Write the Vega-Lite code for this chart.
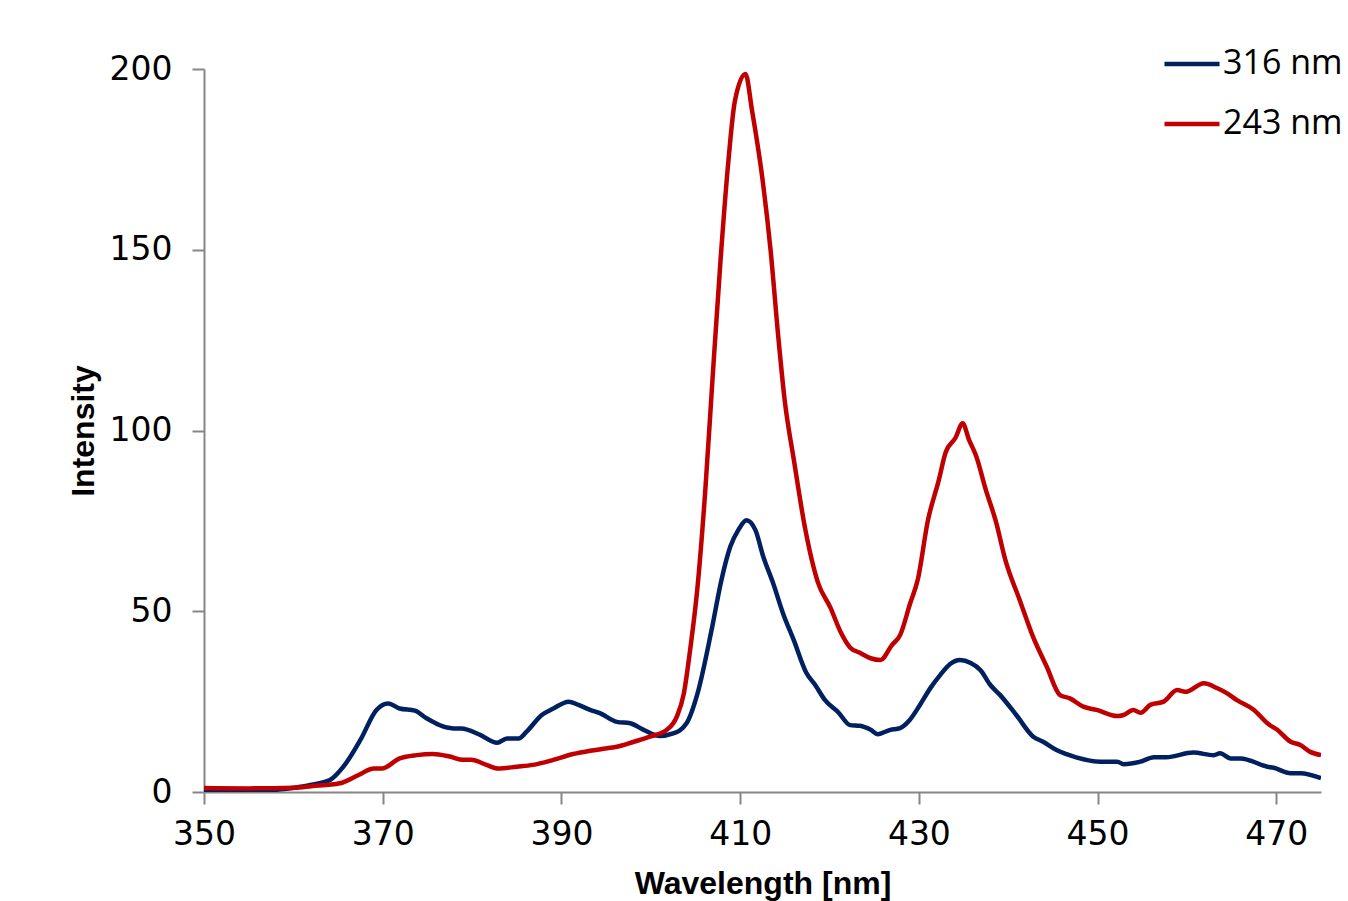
{
  "$schema": "https://vega.github.io/schema/vega-lite/v6.json",
  "width": 1117,
  "height": 723,
  "autosize": {"type": "none"},
  "padding": {"left": 204, "top": 69, "right": 27, "bottom": 109},
  "background": "white",
  "config": {
    "view": {"stroke": null},
    "font": "DejaVu Sans",
    "axis": {
      "grid": false,
      "domainColor": "#868686",
      "domainWidth": 2,
      "tickColor": "#868686",
      "tickWidth": 2,
      "tickSize": 12,
      "labelColor": "#000000",
      "labelFontSize": 33,
      "labelFont": "DejaVu Sans",
      "labelFlush": false,
      "labelOverlap": false,
      "titleColor": "#000000",
      "titleFont": "Liberation Sans",
      "titleFontWeight": "bold"
    }
  },
  "datasets": {
    "spec": [
      {"wl": 350, "v": 0.3, "s": "316 nm"},
      {"wl": 353, "v": 0.3, "s": "316 nm"},
      {"wl": 356, "v": 0.4, "s": "316 nm"},
      {"wl": 359, "v": 0.8, "s": "316 nm"},
      {"wl": 361, "v": 1.5, "s": "316 nm"},
      {"wl": 362.5, "v": 2.2, "s": "316 nm"},
      {"wl": 364.1, "v": 3.3, "s": "316 nm"},
      {"wl": 365.6, "v": 7, "s": "316 nm"},
      {"wl": 367.5, "v": 14.4, "s": "316 nm"},
      {"wl": 369.3, "v": 22.7, "s": "316 nm"},
      {"wl": 370.6, "v": 24.5, "s": "316 nm"},
      {"wl": 371.9, "v": 23.1, "s": "316 nm"},
      {"wl": 373.6, "v": 22.5, "s": "316 nm"},
      {"wl": 374.9, "v": 20.4, "s": "316 nm"},
      {"wl": 377.9, "v": 17.6, "s": "316 nm"},
      {"wl": 378.8, "v": 17.6, "s": "316 nm"},
      {"wl": 380.9, "v": 15.8, "s": "316 nm"},
      {"wl": 382.8, "v": 13.6, "s": "316 nm"},
      {"wl": 383.9, "v": 14.8, "s": "316 nm"},
      {"wl": 385.2, "v": 14.8, "s": "316 nm"},
      {"wl": 386.1, "v": 16.7, "s": "316 nm"},
      {"wl": 387.8, "v": 21.3, "s": "316 nm"},
      {"wl": 389.1, "v": 23.1, "s": "316 nm"},
      {"wl": 390.8, "v": 25, "s": "316 nm"},
      {"wl": 391.9, "v": 24.1, "s": "316 nm"},
      {"wl": 393.2, "v": 22.7, "s": "316 nm"},
      {"wl": 394.3, "v": 21.8, "s": "316 nm"},
      {"wl": 396.2, "v": 19.4, "s": "316 nm"},
      {"wl": 397.7, "v": 19, "s": "316 nm"},
      {"wl": 399.2, "v": 17.2, "s": "316 nm"},
      {"wl": 401.0, "v": 15.5, "s": "316 nm"},
      {"wl": 402.5, "v": 16.2, "s": "316 nm"},
      {"wl": 404.0, "v": 19, "s": "316 nm"},
      {"wl": 405.2, "v": 27, "s": "316 nm"},
      {"wl": 406.8, "v": 44.8, "s": "316 nm"},
      {"wl": 407.9, "v": 58.6, "s": "316 nm"},
      {"wl": 408.9, "v": 67.9, "s": "316 nm"},
      {"wl": 409.8, "v": 72.5, "s": "316 nm"},
      {"wl": 410.7, "v": 75.2, "s": "316 nm"},
      {"wl": 411.7, "v": 72.5, "s": "316 nm"},
      {"wl": 412.6, "v": 65, "s": "316 nm"},
      {"wl": 413.7, "v": 57.7, "s": "316 nm"},
      {"wl": 414.8, "v": 49.4, "s": "316 nm"},
      {"wl": 416.0, "v": 42, "s": "316 nm"},
      {"wl": 417.4, "v": 33, "s": "316 nm"},
      {"wl": 418.4, "v": 29.6, "s": "316 nm"},
      {"wl": 419.5, "v": 25.4, "s": "316 nm"},
      {"wl": 421, "v": 22, "s": "316 nm"},
      {"wl": 422.3, "v": 18.5, "s": "316 nm"},
      {"wl": 423.4, "v": 18.3, "s": "316 nm"},
      {"wl": 424.6, "v": 17.2, "s": "316 nm"},
      {"wl": 425.4, "v": 16, "s": "316 nm"},
      {"wl": 426.8, "v": 17.2, "s": "316 nm"},
      {"wl": 427.9, "v": 17.7, "s": "316 nm"},
      {"wl": 429, "v": 20, "s": "316 nm"},
      {"wl": 430.1, "v": 24, "s": "316 nm"},
      {"wl": 431.3, "v": 28.8, "s": "316 nm"},
      {"wl": 432.4, "v": 32.4, "s": "316 nm"},
      {"wl": 433.5, "v": 35.4, "s": "316 nm"},
      {"wl": 434.6, "v": 36.5, "s": "316 nm"},
      {"wl": 435.8, "v": 35.7, "s": "316 nm"},
      {"wl": 436.9, "v": 33.7, "s": "316 nm"},
      {"wl": 438, "v": 29.6, "s": "316 nm"},
      {"wl": 439.1, "v": 26.8, "s": "316 nm"},
      {"wl": 440.9, "v": 21.3, "s": "316 nm"},
      {"wl": 442.8, "v": 15.3, "s": "316 nm"},
      {"wl": 443.9, "v": 13.9, "s": "316 nm"},
      {"wl": 445.4, "v": 11.6, "s": "316 nm"},
      {"wl": 447.6, "v": 9.6, "s": "316 nm"},
      {"wl": 450.3, "v": 8.4, "s": "316 nm"},
      {"wl": 452.2, "v": 8.4, "s": "316 nm"},
      {"wl": 452.9, "v": 7.7, "s": "316 nm"},
      {"wl": 454.8, "v": 8.4, "s": "316 nm"},
      {"wl": 456.3, "v": 9.6, "s": "316 nm"},
      {"wl": 457.7, "v": 9.6, "s": "316 nm"},
      {"wl": 460.7, "v": 10.9, "s": "316 nm"},
      {"wl": 463.0, "v": 10.2, "s": "316 nm"},
      {"wl": 463.7, "v": 10.7, "s": "316 nm"},
      {"wl": 464.9, "v": 9.3, "s": "316 nm"},
      {"wl": 466.0, "v": 9.3, "s": "316 nm"},
      {"wl": 469.0, "v": 7, "s": "316 nm"},
      {"wl": 469.7, "v": 6.7, "s": "316 nm"},
      {"wl": 471.6, "v": 5.2, "s": "316 nm"},
      {"wl": 472.7, "v": 5.2, "s": "316 nm"},
      {"wl": 475, "v": 3.8, "s": "316 nm"},
      {"wl": 350, "v": 1.1, "s": "243 nm"},
      {"wl": 355, "v": 1.0, "s": "243 nm"},
      {"wl": 360, "v": 1.2, "s": "243 nm"},
      {"wl": 362, "v": 1.6, "s": "243 nm"},
      {"wl": 365.2, "v": 2.4, "s": "243 nm"},
      {"wl": 367.3, "v": 4.7, "s": "243 nm"},
      {"wl": 369.0, "v": 6.5, "s": "243 nm"},
      {"wl": 369.9, "v": 6.5, "s": "243 nm"},
      {"wl": 371.9, "v": 9.3, "s": "243 nm"},
      {"wl": 373.8, "v": 10.2, "s": "243 nm"},
      {"wl": 375.6, "v": 10.5, "s": "243 nm"},
      {"wl": 377.5, "v": 9.8, "s": "243 nm"},
      {"wl": 379.0, "v": 8.9, "s": "243 nm"},
      {"wl": 379.9, "v": 8.9, "s": "243 nm"},
      {"wl": 381.6, "v": 7.5, "s": "243 nm"},
      {"wl": 382.9, "v": 6.5, "s": "243 nm"},
      {"wl": 385.0, "v": 7, "s": "243 nm"},
      {"wl": 386.8, "v": 7.5, "s": "243 nm"},
      {"wl": 389.1, "v": 8.9, "s": "243 nm"},
      {"wl": 391.3, "v": 10.5, "s": "243 nm"},
      {"wl": 392.8, "v": 11.2, "s": "243 nm"},
      {"wl": 395.1, "v": 12.1, "s": "243 nm"},
      {"wl": 396.2, "v": 12.5, "s": "243 nm"},
      {"wl": 398.1, "v": 13.9, "s": "243 nm"},
      {"wl": 399.9, "v": 15.3, "s": "243 nm"},
      {"wl": 401.8, "v": 17.2, "s": "243 nm"},
      {"wl": 402.9, "v": 20.8, "s": "243 nm"},
      {"wl": 403.7, "v": 27.3, "s": "243 nm"},
      {"wl": 404.4, "v": 39.3, "s": "243 nm"},
      {"wl": 405.2, "v": 56, "s": "243 nm"},
      {"wl": 406.1, "v": 83.5, "s": "243 nm"},
      {"wl": 406.9, "v": 114, "s": "243 nm"},
      {"wl": 407.8, "v": 147, "s": "243 nm"},
      {"wl": 408.7, "v": 175, "s": "243 nm"},
      {"wl": 409.4, "v": 191, "s": "243 nm"},
      {"wl": 410.6, "v": 198.6, "s": "243 nm"},
      {"wl": 411.3, "v": 189, "s": "243 nm"},
      {"wl": 412.5, "v": 169.5, "s": "243 nm"},
      {"wl": 413.4, "v": 150, "s": "243 nm"},
      {"wl": 414.3, "v": 125, "s": "243 nm"},
      {"wl": 415.0, "v": 108, "s": "243 nm"},
      {"wl": 416.0, "v": 92, "s": "243 nm"},
      {"wl": 417.3, "v": 72.5, "s": "243 nm"},
      {"wl": 418.7, "v": 58, "s": "243 nm"},
      {"wl": 420.1, "v": 51, "s": "243 nm"},
      {"wl": 421.2, "v": 44.5, "s": "243 nm"},
      {"wl": 422.3, "v": 40, "s": "243 nm"},
      {"wl": 423.4, "v": 38.5, "s": "243 nm"},
      {"wl": 424.6, "v": 37, "s": "243 nm"},
      {"wl": 425.7, "v": 36.5, "s": "243 nm"},
      {"wl": 427, "v": 40.7, "s": "243 nm"},
      {"wl": 427.9, "v": 43.4, "s": "243 nm"},
      {"wl": 429, "v": 52, "s": "243 nm"},
      {"wl": 429.9, "v": 59, "s": "243 nm"},
      {"wl": 431, "v": 75, "s": "243 nm"},
      {"wl": 432.2, "v": 86, "s": "243 nm"},
      {"wl": 433, "v": 94, "s": "243 nm"},
      {"wl": 434.1, "v": 98, "s": "243 nm"},
      {"wl": 434.9, "v": 102, "s": "243 nm"},
      {"wl": 435.6, "v": 97.5, "s": "243 nm"},
      {"wl": 436.4, "v": 93, "s": "243 nm"},
      {"wl": 437.5, "v": 83.5, "s": "243 nm"},
      {"wl": 438.6, "v": 75, "s": "243 nm"},
      {"wl": 439.7, "v": 64, "s": "243 nm"},
      {"wl": 441.3, "v": 53, "s": "243 nm"},
      {"wl": 442.7, "v": 43.4, "s": "243 nm"},
      {"wl": 444.3, "v": 34.7, "s": "243 nm"},
      {"wl": 445.8, "v": 26.8, "s": "243 nm"},
      {"wl": 446.9, "v": 25.9, "s": "243 nm"},
      {"wl": 448.4, "v": 23.6, "s": "243 nm"},
      {"wl": 449.9, "v": 22.7, "s": "243 nm"},
      {"wl": 452.2, "v": 21, "s": "243 nm"},
      {"wl": 452.9, "v": 21.3, "s": "243 nm"},
      {"wl": 454.0, "v": 22.7, "s": "243 nm"},
      {"wl": 454.8, "v": 21.9, "s": "243 nm"},
      {"wl": 455.9, "v": 24.1, "s": "243 nm"},
      {"wl": 457.4, "v": 25, "s": "243 nm"},
      {"wl": 458.9, "v": 28.2, "s": "243 nm"},
      {"wl": 459.8, "v": 27.7, "s": "243 nm"},
      {"wl": 461.9, "v": 30.1, "s": "243 nm"},
      {"wl": 463.4, "v": 28.7, "s": "243 nm"},
      {"wl": 464.5, "v": 27.3, "s": "243 nm"},
      {"wl": 465.6, "v": 25.4, "s": "243 nm"},
      {"wl": 467.5, "v": 22.7, "s": "243 nm"},
      {"wl": 469.0, "v": 19, "s": "243 nm"},
      {"wl": 470.1, "v": 17.2, "s": "243 nm"},
      {"wl": 471.6, "v": 13.9, "s": "243 nm"},
      {"wl": 472.7, "v": 13, "s": "243 nm"},
      {"wl": 473.8, "v": 11.1, "s": "243 nm"},
      {"wl": 475, "v": 10.2, "s": "243 nm"}
    ]
  },
  "data": {"name": "spec"},
  "mark": {"type": "line", "strokeWidth": 4.5, "interpolate": "monotone", "clip": true},
  "encoding": {
    "x": {
      "field": "wl",
      "type": "quantitative",
      "scale": {"domain": [350, 475], "nice": false, "zero": false},
      "axis": {
        "values": [350, 370, 390, 410, 430, 450, 470],
        "title": "Wavelength [nm]",
        "titleFontSize": 32,
        "titlePadding": 17,
        "labelPadding": 14
      }
    },
    "y": {
      "field": "v",
      "type": "quantitative",
      "scale": {"domain": [0, 200], "nice": false},
      "axis": {
        "values": [0, 50, 100, 150, 200],
        "title": "Intensity",
        "titleFontSize": 32,
        "titlePadding": 9,
        "labelPadding": 20
      }
    },
    "color": {
      "field": "s",
      "type": "nominal",
      "sort": ["316 nm", "243 nm"],
      "scale": {"domain": ["316 nm", "243 nm"], "range": ["#002060", "#C00000"]},
      "legend": {
        "title": null,
        "orient": "none",
        "legendX": 958,
        "legendY": -35,
        "symbolType": "stroke",
        "symbolSize": 3025,
        "symbolStrokeWidth": 4.5,
        "labelFontSize": 34,
        "labelColor": "#000000",
        "labelFont": "Open Sans",
        "labelOffset": 1,
        "rowPadding": 13
      }
    }
  }
}
